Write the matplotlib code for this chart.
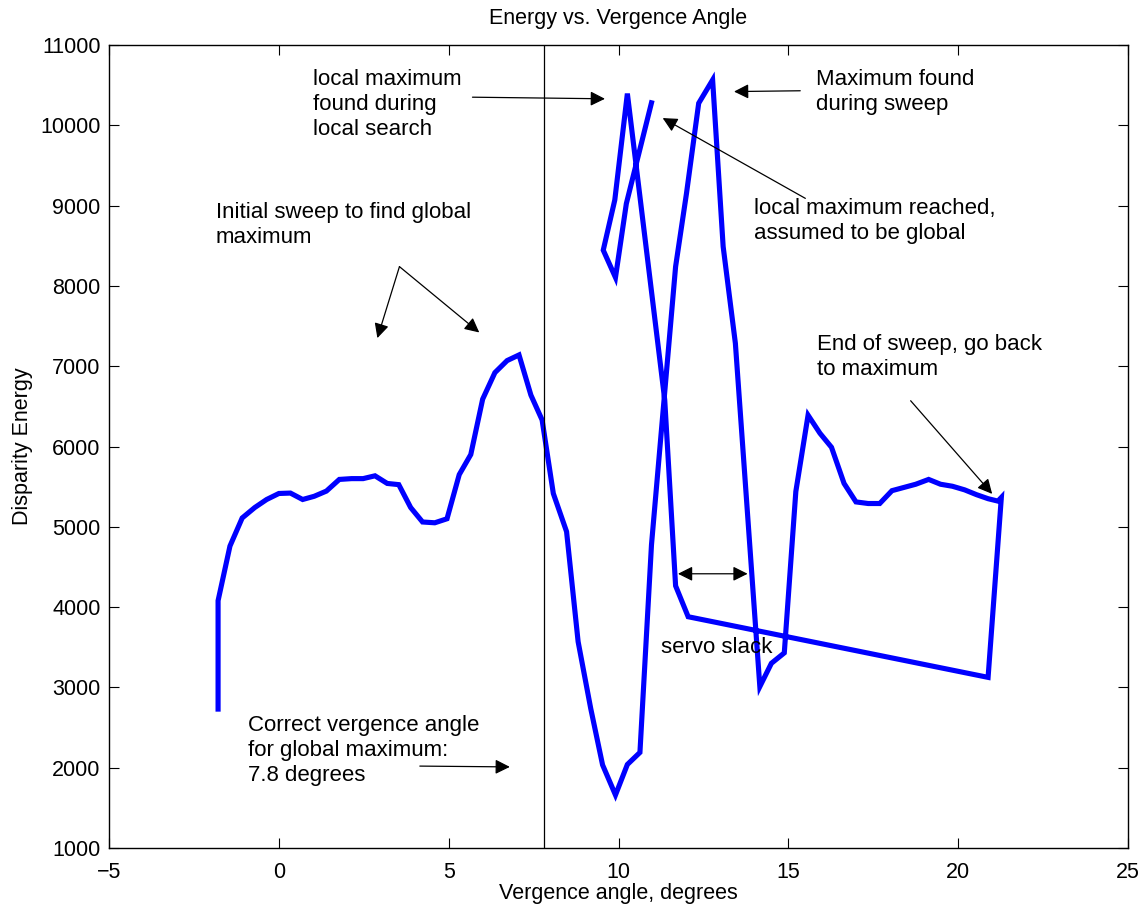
import matplotlib
matplotlib.use("Agg")
import matplotlib.pyplot as plt

plt.rcParams['font.family'] = ['Liberation Sans', 'DejaVu Sans']

# Servo trace: vergence angle (deg) and measured disparity energy, in recorded order
angle = [-1.79, -1.79, -1.44, -1.08, -0.71, -0.36, 0.00, 0.34, 0.70, 1.04, 1.40,
         1.78, 2.14, 2.48, 2.83, 3.19, 3.53, 3.88, 4.23, 4.59, 4.95, 5.31, 5.65,
         6.00, 6.36, 6.72, 7.07, 7.42, 7.75, 8.08, 8.47, 8.81, 9.18, 9.53, 9.91,
         10.26, 10.63, 10.97, 11.68, 12.00, 12.36, 12.77, 13.08, 13.44, 14.16,
         14.50, 14.88, 15.22, 15.58, 15.93, 16.27, 16.64, 16.99, 17.35, 17.69,
         18.05, 18.40, 18.75, 19.13, 19.48, 19.83, 20.19, 20.54, 20.88, 21.17,
         21.27, 20.88, 12.05, 11.68, 11.36, 10.26, 9.89, 9.55, 9.91, 10.23, 10.97]
energy = [2730, 4080, 4760, 5110, 5240, 5340, 5415, 5420, 5340, 5380, 5445,
          5590, 5600, 5600, 5635, 5540, 5525, 5240, 5060, 5050, 5100, 5650, 5900,
          6590, 6920, 7070, 7140, 6640, 6330, 5415, 4940, 3570, 2740, 2035, 1660,
          2040, 2190, 4775, 8240, 9150, 10275, 10565, 8490, 7285, 3010,
          3300, 3430, 5440, 6390, 6165, 5990, 5540, 5310, 5290, 5290,
          5450, 5490, 5530, 5590, 5530, 5505, 5460, 5400, 5350, 5320,
          5365, 3125, 3880, 4265, 6580, 10395, 9070, 8445, 8105, 9025, 10280]

correct_angle = 7.8
x_ticks = [-5, 0, 5, 10, 15, 20, 25]
y_ticks = [1000, 2000, 3000, 4000, 5000, 6000, 7000, 8000, 9000, 10000, 11000]

FS = 15.5
TFS = 16

fig = plt.figure(figsize=(11.43, 9.09), dpi=100)
ax = fig.add_axes([0.0954, 0.0671, 0.8915, 0.8834])

ax.plot(angle, energy, color='#0000ff', lw=3.7, solid_joinstyle='miter')
ax.axvline(correct_angle, color='black', lw=0.9)

ax.set_xlim(-5, 25)
ax.set_ylim(1000, 11000)
ax.set_xticks(x_ticks)
ax.set_yticks(y_ticks)
ax.set_xticklabels([str(t).replace('-', '\u2212') for t in x_ticks])
ax.tick_params(direction='in', length=7, width=0.8, labelsize=FS,
               top=True, right=True)
ax.tick_params(axis='x', pad=10)
ax.tick_params(axis='y', pad=6)
for s in ax.spines.values():
    s.set_linewidth(1.0)

ax.set_title('Energy vs. Vergence Angle', fontsize=FS, pad=15)
ax.set_xlabel('Vergence angle, degrees', fontsize=FS, labelpad=0)
ax.set_ylabel('Disparity Energy', fontsize=FS, labelpad=5)

arrow = dict(arrowstyle='-|>', color='black', lw=0.9, mutation_scale=22,
             shrinkA=0, shrinkB=0)
darrow = dict(arrowstyle='<|-|>', color='black', lw=0.9, mutation_scale=22,
              shrinkA=0, shrinkB=0)
txt = dict(fontsize=TFS, ha='left', va='top', linespacing=1.25)

ax.text(1.0, 10700, 'local maximum\nfound during\nlocal search', **txt)
ax.annotate('', xy=(9.6, 10330), xytext=(5.7, 10350), arrowprops=arrow)

ax.text(-1.85, 9040, 'Initial sweep to find global\nmaximum', **txt)
ax.annotate('', xy=(2.9, 7350), xytext=(3.55, 8240), arrowprops=arrow)
ax.annotate('', xy=(5.9, 7420), xytext=(3.55, 8240), arrowprops=arrow)

ax.text(15.8, 10700, 'Maximum found\nduring sweep', **txt)
ax.annotate('', xy=(13.4, 10420), xytext=(15.35, 10430), arrowprops=arrow)

ax.text(14.0, 9095, 'local maximum reached,\nassumed to be global', **txt)
ax.annotate('', xy=(11.3, 10090), xytext=(15.5, 9090), arrowprops=arrow)

ax.text(15.85, 7400, 'End of sweep, go back\nto maximum', **txt)
ax.annotate('', xy=(21.0, 5410), xytext=(18.6, 6570), arrowprops=arrow)

ax.text(11.25, 3630, 'servo slack', **txt)
ax.annotate('', xy=(11.75, 4415), xytext=(13.8, 4415), arrowprops=darrow)

ax.text(-0.9, 2660, 'Correct vergence angle\nfor global maximum:\n7.8 degrees', **txt)
ax.annotate('', xy=(6.8, 2010), xytext=(4.15, 2020), arrowprops=arrow)

fig.savefig('out.png', dpi=100, facecolor='white')
